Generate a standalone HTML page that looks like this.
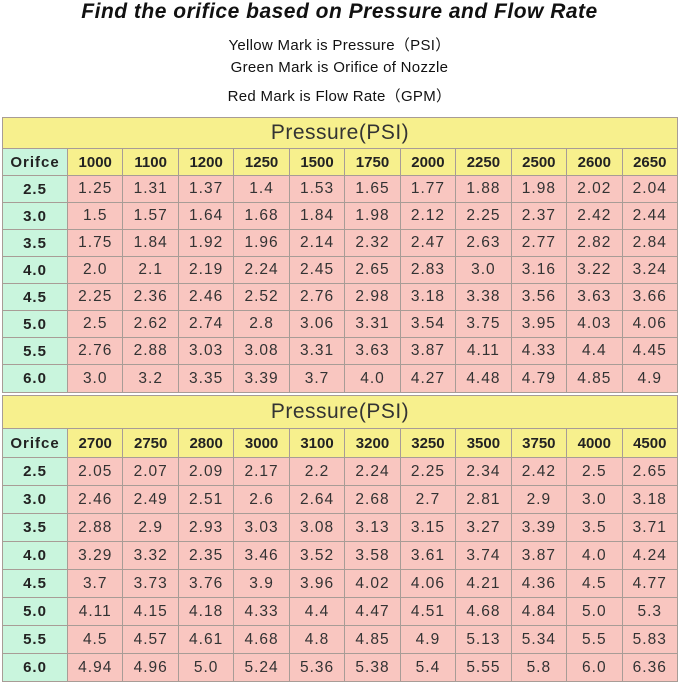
<!DOCTYPE html><html><head><style>
body{margin:0;width:679px;height:682px;background:#fff;font-family:"Liberation Sans",sans-serif;overflow:hidden;position:relative}
.t{position:absolute;left:0;width:679px;text-align:center}
h1{margin:0;font-size:21px;font-style:italic;font-weight:bold;color:#111;letter-spacing:0.5px}
.s{font-size:15px;color:#111;letter-spacing:0.3px}
table{position:absolute;left:2px;border-collapse:collapse;table-layout:fixed;width:676px}
td{border:1px solid #a89c96;text-align:center;padding:0;color:#333;overflow:hidden;white-space:nowrap}
.ti{background:#f7f08d;font-size:21px;letter-spacing:0.5px;color:#333}
.h td{background:#f7f08d;font-weight:bold;font-size:15px;color:#222}
.r td{background:#f9c6c0;font-size:15.5px;letter-spacing:1px}
.h td.o,.r td.o{background:#c9f5dd;font-weight:bold;font-size:15px;color:#222;letter-spacing:1px}
</style></head><body>
<div class="t" style="top:0"><h1>Find the orifice based on Pressure and Flow Rate</h1></div>
<div class="t s" style="top:34px">Yellow Mark is Pressure（PSI）</div>
<div class="t s" style="top:59px">Green Mark is Orifice of Nozzle</div>
<div class="t s" style="top:85px">Red Mark is Flow Rate（GPM）</div>
<table style="top:117px"><colgroup><col style="width:65px"><col span="11"></colgroup>
<tr style="height:31px"><td class="ti" colspan="12">Pressure(PSI)</td></tr>
<tr class="h" style="height:27px"><td class="o">Orifce</td><td>1000</td><td>1100</td><td>1200</td><td>1250</td><td>1500</td><td>1750</td><td>2000</td><td>2250</td><td>2500</td><td>2600</td><td>2650</td></tr>
<tr class="r" style="height:27px"><td class="o">2.5</td><td>1.25</td><td>1.31</td><td>1.37</td><td>1.4</td><td>1.53</td><td>1.65</td><td>1.77</td><td>1.88</td><td>1.98</td><td>2.02</td><td>2.04</td></tr>
<tr class="r" style="height:27px"><td class="o">3.0</td><td>1.5</td><td>1.57</td><td>1.64</td><td>1.68</td><td>1.84</td><td>1.98</td><td>2.12</td><td>2.25</td><td>2.37</td><td>2.42</td><td>2.44</td></tr>
<tr class="r" style="height:27px"><td class="o">3.5</td><td>1.75</td><td>1.84</td><td>1.92</td><td>1.96</td><td>2.14</td><td>2.32</td><td>2.47</td><td>2.63</td><td>2.77</td><td>2.82</td><td>2.84</td></tr>
<tr class="r" style="height:27px"><td class="o">4.0</td><td>2.0</td><td>2.1</td><td>2.19</td><td>2.24</td><td>2.45</td><td>2.65</td><td>2.83</td><td>3.0</td><td>3.16</td><td>3.22</td><td>3.24</td></tr>
<tr class="r" style="height:27px"><td class="o">4.5</td><td>2.25</td><td>2.36</td><td>2.46</td><td>2.52</td><td>2.76</td><td>2.98</td><td>3.18</td><td>3.38</td><td>3.56</td><td>3.63</td><td>3.66</td></tr>
<tr class="r" style="height:27px"><td class="o">5.0</td><td>2.5</td><td>2.62</td><td>2.74</td><td>2.8</td><td>3.06</td><td>3.31</td><td>3.54</td><td>3.75</td><td>3.95</td><td>4.03</td><td>4.06</td></tr>
<tr class="r" style="height:27px"><td class="o">5.5</td><td>2.76</td><td>2.88</td><td>3.03</td><td>3.08</td><td>3.31</td><td>3.63</td><td>3.87</td><td>4.11</td><td>4.33</td><td>4.4</td><td>4.45</td></tr>
<tr class="r" style="height:28px"><td class="o">6.0</td><td>3.0</td><td>3.2</td><td>3.35</td><td>3.39</td><td>3.7</td><td>4.0</td><td>4.27</td><td>4.48</td><td>4.79</td><td>4.85</td><td>4.9</td></tr>
</table>
<table style="top:395px"><colgroup><col style="width:65px"><col span="11"></colgroup>
<tr style="height:33px"><td class="ti" colspan="12">Pressure(PSI)</td></tr>
<tr class="h" style="height:29px"><td class="o">Orifce</td><td>2700</td><td>2750</td><td>2800</td><td>3000</td><td>3100</td><td>3200</td><td>3250</td><td>3500</td><td>3750</td><td>4000</td><td>4500</td></tr>
<tr class="r" style="height:28px"><td class="o">2.5</td><td>2.05</td><td>2.07</td><td>2.09</td><td>2.17</td><td>2.2</td><td>2.24</td><td>2.25</td><td>2.34</td><td>2.42</td><td>2.5</td><td>2.65</td></tr>
<tr class="r" style="height:28px"><td class="o">3.0</td><td>2.46</td><td>2.49</td><td>2.51</td><td>2.6</td><td>2.64</td><td>2.68</td><td>2.7</td><td>2.81</td><td>2.9</td><td>3.0</td><td>3.18</td></tr>
<tr class="r" style="height:28px"><td class="o">3.5</td><td>2.88</td><td>2.9</td><td>2.93</td><td>3.03</td><td>3.08</td><td>3.13</td><td>3.15</td><td>3.27</td><td>3.39</td><td>3.5</td><td>3.71</td></tr>
<tr class="r" style="height:28px"><td class="o">4.0</td><td>3.29</td><td>3.32</td><td>2.35</td><td>3.46</td><td>3.52</td><td>3.58</td><td>3.61</td><td>3.74</td><td>3.87</td><td>4.0</td><td>4.24</td></tr>
<tr class="r" style="height:28px"><td class="o">4.5</td><td>3.7</td><td>3.73</td><td>3.76</td><td>3.9</td><td>3.96</td><td>4.02</td><td>4.06</td><td>4.21</td><td>4.36</td><td>4.5</td><td>4.77</td></tr>
<tr class="r" style="height:28px"><td class="o">5.0</td><td>4.11</td><td>4.15</td><td>4.18</td><td>4.33</td><td>4.4</td><td>4.47</td><td>4.51</td><td>4.68</td><td>4.84</td><td>5.0</td><td>5.3</td></tr>
<tr class="r" style="height:28px"><td class="o">5.5</td><td>4.5</td><td>4.57</td><td>4.61</td><td>4.68</td><td>4.8</td><td>4.85</td><td>4.9</td><td>5.13</td><td>5.34</td><td>5.5</td><td>5.83</td></tr>
<tr class="r" style="height:28px"><td class="o">6.0</td><td>4.94</td><td>4.96</td><td>5.0</td><td>5.24</td><td>5.36</td><td>5.38</td><td>5.4</td><td>5.55</td><td>5.8</td><td>6.0</td><td>6.36</td></tr>
</table>
</body></html>
